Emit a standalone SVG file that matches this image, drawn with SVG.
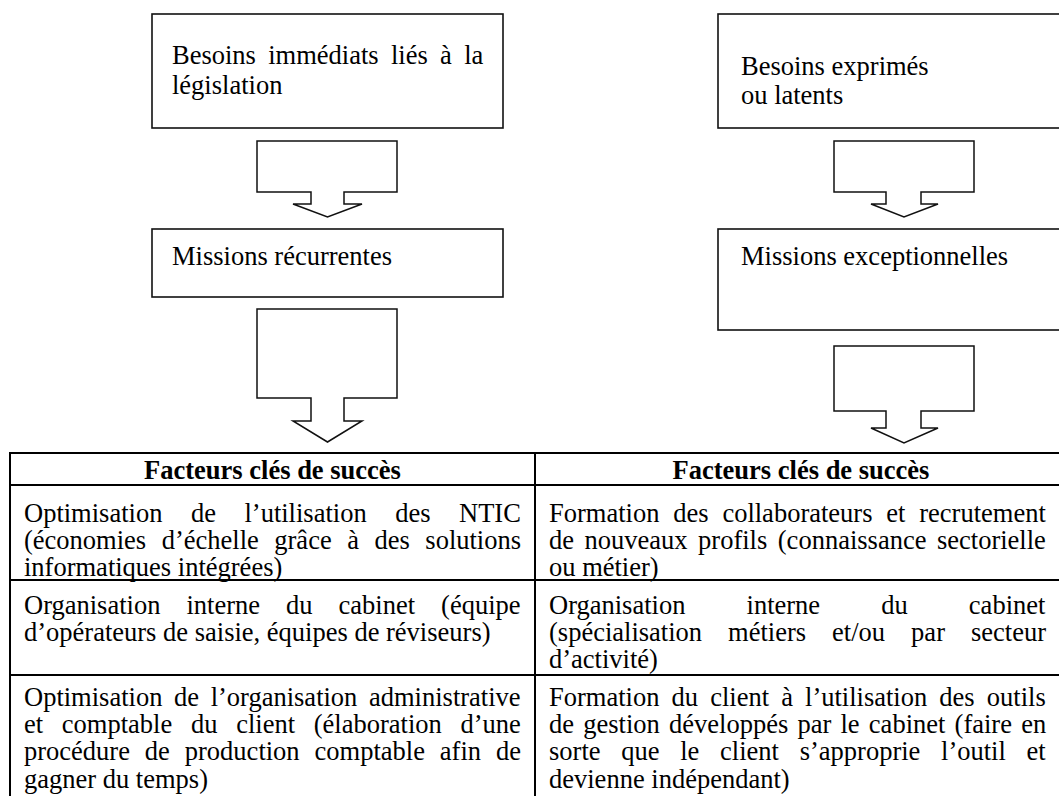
<svg xmlns="http://www.w3.org/2000/svg" width="1059" height="796" viewBox="0 0 1059 796">
<style>
.box{fill:#fff;stroke:#111;stroke-width:1.6}
.arr{fill:#fff;stroke:#111;stroke-width:1.5;stroke-linejoin:miter}
.t{font-family:"Liberation Serif","Times New Roman",serif;font-size:26.5px;fill:#000}
.h{font-family:"Liberation Serif","Times New Roman",serif;font-size:26.5px;font-weight:bold;fill:#000;text-anchor:middle}
.grid{stroke:#000;stroke-width:2;fill:none}
</style>
<rect width="1059" height="796" fill="#fff"/>
<g id="connectors">
<path class="arr" d="M257,141 H397 V192 H344 V204 H362 L327.5,217 L293,204 H311 V192 H257 Z"/>
<path class="arr" d="M257,309 H397 V398 H344 V421 H362 L327.5,442 L293,421 H311 V398 H257 Z"/>
<path class="arr" d="M834,141 H974 V192 H921 V204 H938 L904,217 L871,204 H886 V192 H834 Z"/>
<path class="arr" d="M834,346 H974 V411 H921 V428 H938 L904,443 L871,428 H886 V411 H834 Z"/>
</g>
<g id="besoins-legislation">
<rect class="box" x="152" y="14" width="351" height="114"/>
<text class="t" x="172" y="64" word-spacing="5.7">Besoins immédiats liés à la</text>
<text class="t" x="172" y="94">législation</text>
</g>
<g id="besoins-exprimes">
<rect class="box" x="718" y="14" width="351" height="114"/>
<text class="t" x="741" y="75">Besoins exprimés</text>
<text class="t" x="741" y="104">ou latents</text>
</g>
<g id="missions-recurrentes">
<rect class="box" x="152" y="229" width="351" height="68"/>
<text class="t" x="172" y="265">Missions récurrentes</text>
</g>
<g id="missions-exceptionnelles">
<rect class="box" x="718" y="229" width="351" height="101"/>
<text class="t" x="741" y="265">Missions exceptionnelles</text>
</g>
<g id="table-facteurs">
<rect class="grid" x="10" y="453" width="1050" height="360"/>
<line class="grid" x1="10" y1="485" x2="1060" y2="485"/>
<line class="grid" x1="10" y1="580" x2="1060" y2="580"/>
<line class="grid" x1="10" y1="675" x2="1060" y2="675"/>
<line class="grid" x1="535" y1="453" x2="535" y2="796"/>
<text class="h" x="272.5" y="479">Facteurs clés de succès</text>
<text class="h" x="801" y="479">Facteurs clés de succès</text>
<text class="t" x="24" y="522" word-spacing="21.9">Optimisation de l’utilisation des NTIC</text>
<text class="t" x="24" y="549" word-spacing="8.9">(économies d’échelle grâce à des solutions</text>
<text class="t" x="24" y="576">informatiques intégrées)</text>
<text class="t" x="24" y="614" word-spacing="19.4">Organisation interne du cabinet (équipe</text>
<text class="t" x="24" y="641">d’opérateurs de saisie, équipes de réviseurs)</text>
<text class="t" x="24" y="706" word-spacing="5">Optimisation de l’organisation administrative</text>
<text class="t" x="24" y="733" word-spacing="12.1">et comptable du client (élaboration d’une</text>
<text class="t" x="24" y="760" word-spacing="8.3">procédure de production comptable afin de</text>
<text class="t" x="24" y="788">gagner du temps)</text>
<text class="t" x="549" y="522" word-spacing="7.2">Formation des collaborateurs et recrutement</text>
<text class="t" x="549" y="549" word-spacing="3.9">de nouveaux profils (connaissance sectorielle</text>
<text class="t" x="549" y="576">ou métier)</text>
<text class="t" x="549" y="614" word-spacing="54.5">Organisation interne du cabinet</text>
<text class="t" x="549" y="641" word-spacing="19.4">(spécialisation métiers et/ou par secteur</text>
<text class="t" x="549" y="668">d’activité)</text>
<text class="t" x="549" y="706" word-spacing="5.5">Formation du client à l’utilisation des outils</text>
<text class="t" x="549" y="733" word-spacing="2.6">de gestion développés par le cabinet (faire en</text>
<text class="t" x="549" y="760" word-spacing="14.1">sorte que le client s’approprie l’outil et</text>
<text class="t" x="549" y="788">devienne indépendant)</text>
</g>
</svg>
